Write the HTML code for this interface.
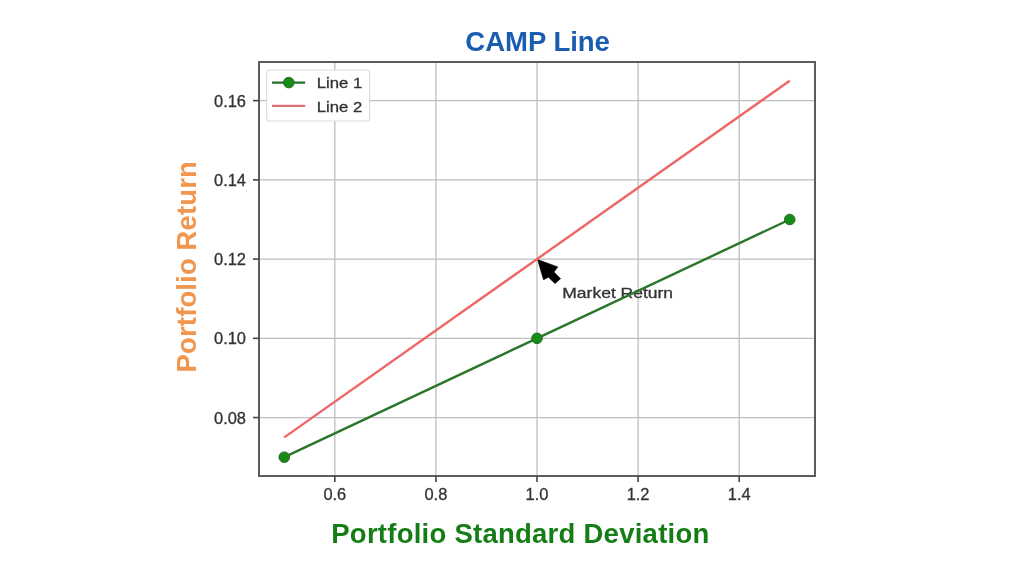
<!DOCTYPE html>
<html><head><meta charset="utf-8"><style>
html,body{margin:0;padding:0;background:#fff;}
body{width:1024px;height:576px;overflow:hidden;}
svg{display:block;filter:blur(0.35px);}
text{font-family:"Liberation Sans",sans-serif;}
.g{stroke:#bebebe;stroke-width:1.3;}
.tk{font-size:16px;fill:#333;stroke:#333;stroke-width:0.3px;}
.lg{font-size:14.5px;fill:#333;stroke:#333;stroke-width:0.3px;}
.an{font-size:14.5px;fill:#333;stroke:#333;stroke-width:0.3px;}
.ti{font-size:27.5px;font-weight:bold;fill:#1a5cb0;letter-spacing:0px;}
.yl{font-size:27.5px;font-weight:bold;fill:#f0964f;letter-spacing:0.13px;}
.xl{font-size:27.5px;font-weight:bold;fill:#157d16;letter-spacing:0.25px;}
</style></head><body>
<svg width="1024" height="576" viewBox="0 0 1024 576">
<line x1="334.82" y1="62" x2="334.82" y2="476" class="g"/>
<line x1="435.91" y1="62" x2="435.91" y2="476" class="g"/>
<line x1="537.00" y1="62" x2="537.00" y2="476" class="g"/>
<line x1="638.09" y1="62" x2="638.09" y2="476" class="g"/>
<line x1="739.18" y1="62" x2="739.18" y2="476" class="g"/>
<line x1="259" y1="417.56" x2="815" y2="417.56" class="g"/>
<line x1="259" y1="338.33" x2="815" y2="338.33" class="g"/>
<line x1="259" y1="259.10" x2="815" y2="259.10" class="g"/>
<line x1="259" y1="179.86" x2="815" y2="179.86" class="g"/>
<line x1="259" y1="100.63" x2="815" y2="100.63" class="g"/>
<polygon points="537.6,259.6 557.8,266.9 554,272 560.6,278.7 555,283.6 548.4,277.3 543.5,279.8" fill="#000" stroke="#000" stroke-width="0.6" stroke-linejoin="miter"/>
<text x="562.3" y="298.3" class="an" textLength="110.8" lengthAdjust="spacingAndGlyphs">Market Return</text>
<line x1="284.27" y1="437.37" x2="789.73" y2="80.82" stroke="#ee6565" stroke-width="2.4"/>
<polyline points="284.27,457.18 537.00,338.33 789.73,219.48" fill="none" stroke="#2b762b" stroke-width="2.4"/>
<circle cx="284.27" cy="457.18" r="5.3" fill="#178a17" stroke="#256a25" stroke-width="1"/>
<circle cx="537.00" cy="338.33" r="5.3" fill="#178a17" stroke="#256a25" stroke-width="1"/>
<circle cx="789.73" cy="219.48" r="5.3" fill="#178a17" stroke="#256a25" stroke-width="1"/>
<rect x="259" y="62" width="556" height="414" fill="none" stroke="#5c5c5c" stroke-width="2"/>
<line x1="334.82" y1="476" x2="334.82" y2="482" stroke="#444" stroke-width="1.6"/>
<text x="323.42" y="499.5" class="tk" textLength="22.8" lengthAdjust="spacingAndGlyphs">0.6</text>
<line x1="435.91" y1="476" x2="435.91" y2="482" stroke="#444" stroke-width="1.6"/>
<text x="424.51" y="499.5" class="tk" textLength="22.8" lengthAdjust="spacingAndGlyphs">0.8</text>
<line x1="537.00" y1="476" x2="537.00" y2="482" stroke="#444" stroke-width="1.6"/>
<text x="525.60" y="499.5" class="tk" textLength="22.8" lengthAdjust="spacingAndGlyphs">1.0</text>
<line x1="638.09" y1="476" x2="638.09" y2="482" stroke="#444" stroke-width="1.6"/>
<text x="626.69" y="499.5" class="tk" textLength="22.8" lengthAdjust="spacingAndGlyphs">1.2</text>
<line x1="739.18" y1="476" x2="739.18" y2="482" stroke="#444" stroke-width="1.6"/>
<text x="727.78" y="499.5" class="tk" textLength="22.8" lengthAdjust="spacingAndGlyphs">1.4</text>
<line x1="253" y1="417.56" x2="259" y2="417.56" stroke="#444" stroke-width="1.6"/>
<text x="214.0" y="423.56" class="tk" textLength="32" lengthAdjust="spacingAndGlyphs">0.08</text>
<line x1="253" y1="338.33" x2="259" y2="338.33" stroke="#444" stroke-width="1.6"/>
<text x="214.0" y="344.33" class="tk" textLength="32" lengthAdjust="spacingAndGlyphs">0.10</text>
<line x1="253" y1="259.10" x2="259" y2="259.10" stroke="#444" stroke-width="1.6"/>
<text x="214.0" y="265.10" class="tk" textLength="32" lengthAdjust="spacingAndGlyphs">0.12</text>
<line x1="253" y1="179.86" x2="259" y2="179.86" stroke="#444" stroke-width="1.6"/>
<text x="214.0" y="185.86" class="tk" textLength="32" lengthAdjust="spacingAndGlyphs">0.14</text>
<line x1="253" y1="100.63" x2="259" y2="100.63" stroke="#444" stroke-width="1.6"/>
<text x="214.0" y="106.63" class="tk" textLength="32" lengthAdjust="spacingAndGlyphs">0.16</text>
<rect x="266.6" y="70" width="103" height="51" rx="3" fill="#fff" fill-opacity="1" stroke="#dcdcdc" stroke-width="1.2"/>
<line x1="272" y1="82.6" x2="305.2" y2="82.6" stroke="#266e26" stroke-width="2.2"/>
<circle cx="288.8" cy="82.6" r="5.3" fill="#178a17" stroke="#256a25" stroke-width="1"/>
<line x1="272" y1="105.9" x2="305.2" y2="105.9" stroke="#dc7474" stroke-width="2.2"/>
<text x="316.7" y="87.8" class="lg" textLength="45.5" lengthAdjust="spacingAndGlyphs">Line 1</text>
<text x="316.7" y="111.8" class="lg" textLength="45.5" lengthAdjust="spacingAndGlyphs">Line 2</text>
<text x="537.6" y="51.3" class="ti" text-anchor="middle">CAMP Line</text>
<text transform="translate(196.3,266.7) rotate(-90)" class="yl" text-anchor="middle">Portfolio Return</text>
<text x="520.4" y="543.3" class="xl" text-anchor="middle">Portfolio Standard Deviation</text>
</svg>
</body></html>
